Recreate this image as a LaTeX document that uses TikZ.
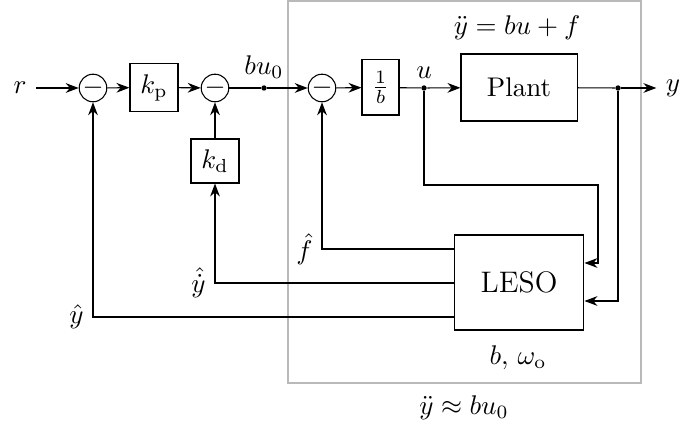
\documentclass[tikz,border=0pt]{standalone}
\usepackage{amsmath,amssymb}
\usepackage{tikz}
\usetikzlibrary{positioning, calc, arrows.meta}

\begin{document}
\begin{tikzpicture}[
        x=0.3704pt, y=-0.3704pt,
        % Style for the summing junctions
        sumnode/.style={
            draw,
            circle,
            minimum size=9.6pt,
            inner sep=0pt
        },
        % Style for the transfer blocks
        blocknode/.style={
            draw,
            inner sep=0pt
        },
        % Style for the branch points
        branchdot/.style={
            circle,
            fill,
            minimum size=2pt,
            inner sep=0pt
        },
        % Style for the signal arrows
        signal/.style={
            ->,
            >=Stealth
        }
    ]
    \useasboundingbox (0,0) rectangle (681,425);

    % ==========================================
    % OUTER CONTROLLER
    % ==========================================
    \node (r) at (20,88) {$r$};
    \node[sumnode] (s1) at (93,88) {$-$};
    \node[blocknode, minimum width=17.8pt, minimum height=18.1pt] (kp) at (154,87.5) {$k_{\mathrm{p}}$};
    \node[sumnode] (s2) at (215,88) {$-$};
    \node[blocknode, minimum width=17.8pt, minimum height=16.3pt] (kd) at (215,161) {$k_{\mathrm{d}}$};
    \node[branchdot] (bu) at (264,88) {};
    \node[above] (bulabel) at (bu) {$bu_0$};

    % ==========================================
    % DISTURBANCE REJECTION LOOP
    % ==========================================
    \draw[gray!55] (288,1) rectangle (641,383);
    \node[sumnode] (s3) at (322,88) {$-$};
    \node[blocknode, minimum width=13.7pt, minimum height=20.4pt] (inv) at (380.5,87.5) {$\frac{1}{b}$};
    \node[branchdot] (u) at (424,88) {};
    \node[above] (ulabel) at (u) {$u$};
    \node[blocknode, minimum width=43pt, minimum height=24.8pt] (plant) at (519,87.5) {Plant};
    \node (planteq) at (517,28) {$\ddot{y} = bu + f$};
    \node[branchdot] (ydot) at (618,88) {};
    \node (y) at (673,88) {$y$};
    \node[blocknode, minimum width=48.1pt, minimum height=35.2pt, font=\fontsize{11}{13}\selectfont] (leso) at (519,282.5) {LESO};
    \node (lesoparam) at (518,358) {$b,\, \omega_{\mathrm{o}}$};
    \node (approx) at (464,408) {$\ddot{y} \approx bu_0$};

    % ports on the observer
    \coordinate (lesoInU) at ($(leso.east)+(0,-19.5)$);
    \coordinate (lesoInY) at ($(leso.east)+(0,18.5)$);
    \coordinate (lesoOutF) at ($(leso.west)+(0,-33.5)$);
    \coordinate (lesoOutDy) at ($(leso.west)+(0,0.5)$);
    \coordinate (lesoOutY) at ($(leso.west)+(0,34.5)$);

    % forward path
    \draw[signal] (r) -- (s1);
    \draw[signal] (s1) -- (kp);
    \draw[signal] (kp) -- (s2);
    \draw (s2) -- (bu);
    \draw[signal] (bu) -- (s3);
    \draw[signal] (s3) -- (inv);
    \draw (inv) -- (u);
    \draw[signal] (u) -- (plant);
    \draw (plant) -- (ydot);
    \draw[signal] (ydot) -- (y);

    % observer inputs
    \draw[signal] (u) |- (598,185) |- (lesoInU);
    \draw[signal] (ydot) |- (lesoInY);

    % feedback of the estimates
    \draw[signal] (lesoOutF) -| (s3);
    \draw[signal] (lesoOutDy) -| (kd);
    \draw[signal] (kd) -- (s2);
    \draw[signal] (lesoOutY) -| (s1);
    \node[left] (fhat) at (s3 |- lesoOutF) {$\hat{f}$};
    \node[left] (dyhat) at (kd |- lesoOutDy) {$\hat{\dot{y}}$};
    \node[left] (yhat) at (s1 |- lesoOutY) {$\hat{y}$};
\end{tikzpicture}
\end{document}
